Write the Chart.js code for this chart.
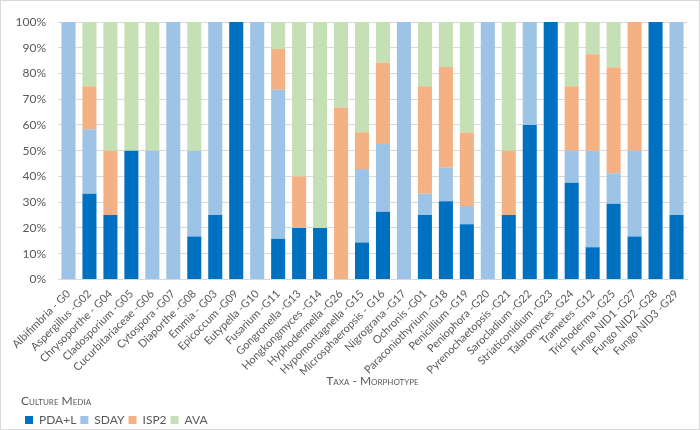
<!DOCTYPE html>
<html>
<head>
<meta charset="utf-8">
<script src="https://cdn.jsdelivr.net/npm/chart.js@4"></script>
<style>
  html, body { margin: 0; padding: 0; background: #fff; }
  #wrap { width: 700px; height: 430px; box-sizing: border-box; border: 1px solid #d9d9d9; position: relative; }
</style>
</head>
<body>
<div id="wrap"><canvas id="chart"></canvas></div>
<script>
const taxa = [
  'Albifimbria - G0', 'Aspergillus -G02', 'Chrysoporthe - G04', 'Cladosporium -G05',
  'Cucurbitariaceae -G06', 'Cytospora -G07', 'Diaporthe -G08', 'Emmia - G03',
  'Epicoccum -G09', 'Eutypella -G10', 'Fusarium -G11', 'Gongronella -G13',
  'Hongkongmyces -G14', 'Hyphodermella -G26', 'Hypomontagnella -G15', 'Microsphaeropsis - G16',
  'Nigrograna -G17', 'Ochronis -G01', 'Paraconiothyrium -G18', 'Penicillium -G19',
  'Peniophora -G20', 'Pyrenochaetopsis -G21', 'Sarocladium -G22', 'Striaticonidium -G23',
  'Talaromyces -G24', 'Trametes -G12', 'Trichoderma -G25', 'Fungo NID1 -G27',
  'Fungo NID2 -G28', 'Fungo NID3 -G29'
];

// share of isolates per culture medium (%)
const pdaL = [0, 33.3, 25, 50, 0, 0, 16.7, 25, 100, 0, 15.8, 20, 20, 0, 14.3, 26.3, 0, 25, 30.4, 21.4, 0, 25, 60, 100, 37.5, 12.5, 29.4, 16.7, 100, 25];
const sday = [100, 25, 0, 0, 50, 100, 33.3, 75, 0, 100, 57.9, 0, 0, 0, 28.6, 26.3, 100, 8.3, 13.0, 7.1, 100, 0, 40, 0, 12.5, 37.5, 11.8, 33.3, 0, 75];
const isp2 = [0, 16.7, 25, 0, 0, 0, 0, 0, 0, 0, 15.8, 20, 0, 66.7, 14.3, 31.6, 0, 41.7, 39.1, 28.6, 0, 25, 0, 0, 25, 37.5, 41.2, 50, 0, 0];
const ava  = [0, 25, 50, 50, 50, 0, 50, 0, 0, 0, 10.5, 60, 80, 33.3, 42.9, 15.8, 0, 25, 17.4, 42.9, 0, 50, 0, 0, 25, 12.5, 17.6, 0, 0, 0];

const yTicks = [0, 10, 20, 30, 40, 50, 60, 70, 80, 90, 100];

const fontFamily = 'Lato, "Open Sans", sans-serif';
const grey = '#595959';

function ds(label, data, color) {
  return {
    label: label,
    data: data,
    backgroundColor: color,
    borderWidth: 0,
    barPercentage: 0.67,
    categoryPercentage: 1
  };
}

// nudge the legend block in from the left edge, like the original
const legendIndent = {
  id: 'legendIndent',
  afterLayout(chart) {
    chart.legend.left += 15;
    chart.legend.right += 15;
  }
};

new Chart(document.getElementById('chart'), {
  type: 'bar',
  data: {
    labels: taxa,
    datasets: [
      ds('PDA+L', pdaL, '#0070c0'),
      ds('SDAY', sday, '#9dc3e6'),
      ds('ISP2', isp2, '#f4b183'),
      ds('AVA', ava, '#c5e0b4')
    ]
  },
  plugins: [legendIndent],
  options: {
    responsive: true,
    maintainAspectRatio: false,
    animation: false,
    layout: { padding: { left: 5, right: 12, top: 21, bottom: -7 } },
    plugins: {
      tooltip: { enabled: false },
      legend: {
        position: 'bottom',
        align: 'start',
        title: {
          display: true,
          position: 'start',
          text: 'Culture Media',
          color: grey,
          padding: { top: 1, bottom: 0 },
          // weight string carries the small-caps variant into the canvas font
          font: { family: fontFamily, size: 12, weight: 'small-caps normal' }
        },
        labels: {
          boxWidth: 8,
          boxHeight: 8,
          padding: 4,
          color: grey,
          font: { family: fontFamily, size: 12 }
        }
      }
    },
    scales: {
      x: {
        stacked: true,
        grid: { display: false },
        border: { color: '#d9d9d9' },
        // let the first slanted label hang into the margin instead of pushing the plot right
        afterFit: s => { s.paddingLeft = 0; },
        ticks: {
          color: grey,
          minRotation: 45,
          maxRotation: 45,
          autoSkip: false,
          padding: 0,
          font: { family: fontFamily, size: 11 }
        },
        title: {
          display: true,
          text: 'Taxa - Morphotype',
          color: grey,
          padding: { top: -4, bottom: 6 },
          font: { family: fontFamily, size: 12, weight: 'small-caps normal' }
        }
      },
      y: {
        stacked: true,
        min: 0,
        max: 100,
        afterBuildTicks: axis => { axis.ticks = yTicks.map(v => ({ value: v })); },
        afterFit: s => { s.width = 52; },
        grid: { color: '#d9d9d9', drawTicks: false },
        border: { display: false },
        ticks: {
          color: grey,
          padding: 12,
          font: { family: fontFamily, size: 12 },
          callback: v => v + '%'
        }
      }
    }
  }
});
</script>
</body>
</html>
